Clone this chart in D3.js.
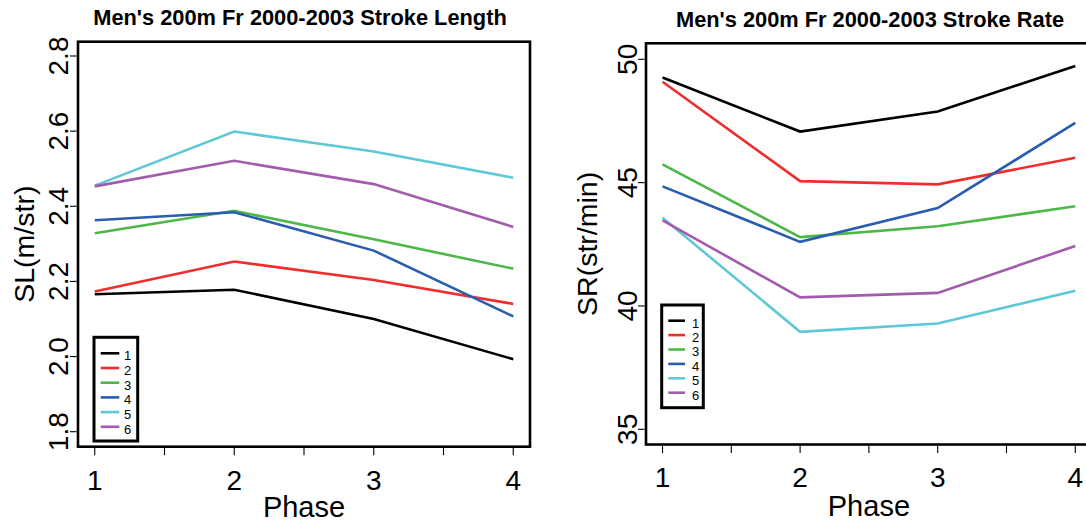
<!DOCTYPE html>
<html>
<head>
<meta charset="utf-8">
<script src="https://cdn.jsdelivr.net/npm/d3@7"></script>
<style>
  html, body { margin: 0; padding: 0; background: #fff; }
  svg { display: block; font-family: "Liberation Sans", Arial, Helvetica, sans-serif; }
</style>
</head>
<body>
<svg id="chart" width="1086" height="523"></svg>
<script>
// ---------------- data ----------------
const phases = [1, 2, 3, 4];
const seriesNames = ["1", "2", "3", "4", "5", "6"];
const seriesColors = ["#000000", "#f02d2d", "#4db848", "#2a5caf", "#5ec8d6", "#a35bad"];

// Stroke length (m/str)
const sl1 = [2.166, 2.178, 2.100, 1.993];
const sl2 = [2.173, 2.253, 2.204, 2.140];
const sl3 = [2.328, 2.388, 2.312, 2.234];
const sl4 = [2.363, 2.384, 2.282, 2.107];
const sl5 = [2.455, 2.599, 2.546, 2.476];
const sl6 = [2.453, 2.521, 2.459, 2.345];

// Stroke rate (str/min)
const sr1 = [49.26, 47.07, 47.88, 49.73];
const sr2 = [49.09, 45.06, 44.93, 46.01];
const sr3 = [45.74, 42.79, 43.23, 44.04];
const sr4 = [44.85, 42.60, 43.97, 47.42];
const sr5 = [43.58, 38.95, 39.29, 40.62];
const sr6 = [43.47, 40.35, 40.53, 42.43];

const slTicks = [1.8, 2.0, 2.2, 2.4, 2.6, 2.8];
const slTickLabels = ["1.8", "2.0", "2.2", "2.4", "2.6", "2.8"];
const srTicks = [35, 40, 45, 50];
const srTickLabels = ["35", "40", "45", "50"];
const xMajorTicks = [1, 2, 3, 4];
const xMinorTicks = [1.5, 2.5, 3.5];

// ---------------- layout ----------------
const svg = d3.select("#chart");

const panels = [
  {
    title: "Men's 200m Fr 2000-2003 Stroke Length",
    ylab: "SL(m/str)",
    series: [sl1, sl2, sl3, sl4, sl5, sl6],
    yDomain: [1.8, 2.8], yRange: [431.7, 56],
    yTicks: slTicks, yTickLabels: slTickLabels,
    box: { x0: 78, x1: 530, y0: 41.7, y1: 446.7 },
    titleX: 300, titleY: 25,
    yLabX: 67.5, yTitleX: 33.5,
    xLabY: 490, xTitleY: 517,
    legend: { x0: 94, y0: 337.3, x1: 137.7, y1: 441, first: 353.3, step: 14.7, lx0: 100.7, lx1: 119.3, tx: 124 }
  },
  {
    title: "Men's 200m Fr 2000-2003 Stroke Rate",
    ylab: "SR(str/min)",
    series: [sr1, sr2, sr3, sr4, sr5, sr6],
    yDomain: [35, 50], yRange: [429.3, 59.3],
    yTicks: srTicks, yTickLabels: srTickLabels,
    box: { x0: 646, x1: 1091.8, y0: 43.3, y1: 444.5 },
    titleX: 870, titleY: 27,
    yLabX: 636.5, yTitleX: 596.5,
    xLabY: 487, xTitleY: 516,
    legend: { x0: 661.7, y0: 305, x1: 703.3, y1: 407.7, first: 320.7, step: 14.4, lx0: 668.3, lx1: 685, tx: 692 }
  }
];

panels.forEach(p => {
  const g = svg.append("g");
  const b = p.box;
  const x = d3.scaleLinear().domain([0.88, 4.12]).range([b.x0, b.x1]);
  const y = d3.scaleLinear().domain(p.yDomain).range(p.yRange);

  // title
  g.append("text")
    .attr("x", p.titleX).attr("y", p.titleY)
    .attr("text-anchor", "middle")
    .attr("font-weight", "bold")
    .attr("font-size", 21.8)
    .text(p.title);

  // series lines
  const line = d3.line().x((d, i) => x(phases[i])).y(d => y(d));
  p.series.forEach((s, i) => {
    g.append("path")
      .datum(s)
      .attr("d", line)
      .attr("fill", "none")
      .attr("stroke", seriesColors[i])
      .attr("stroke-width", 2.6)
      .attr("stroke-linejoin", "miter");
  });

  // box
  g.append("rect")
    .attr("x", b.x0).attr("y", b.y0)
    .attr("width", b.x1 - b.x0).attr("height", b.y1 - b.y0)
    .attr("fill", "none").attr("stroke", "#000").attr("stroke-width", 2.6);

  // x ticks
  const xt = g.append("g");
  xMajorTicks.concat(xMinorTicks).forEach(t => {
    xt.append("line")
      .attr("x1", x(t)).attr("x2", x(t))
      .attr("y1", b.y1 + 1.3).attr("y2", b.y1 + 8.5)
      .attr("stroke", "#000").attr("stroke-width", 1.1);
  });
  xMajorTicks.forEach(t => {
    xt.append("text")
      .attr("x", x(t)).attr("y", p.xLabY)
      .attr("text-anchor", "middle")
      .attr("font-size", 28)
      .text(String(t));
  });

  // y ticks
  const yt = g.append("g");
  p.yTicks.forEach((t, i) => {
    yt.append("line")
      .attr("x1", b.x0 - 1.3).attr("x2", b.x0 - 8)
      .attr("y1", y(t)).attr("y2", y(t))
      .attr("stroke", "#000").attr("stroke-width", 1.1);
    yt.append("text")
      .attr("transform", `translate(${p.yLabX},${y(t)}) rotate(-90)`)
      .attr("text-anchor", "middle")
      .attr("font-size", 28)
      .text(p.yTickLabels[i]);
  });

  // axis titles
  g.append("text")
    .attr("x", (b.x0 + b.x1) / 2)
    .attr("y", p.xTitleY)
    .attr("text-anchor", "middle")
    .attr("font-size", 29)
    .text("Phase");
  g.append("text")
    .attr("transform", `translate(${p.yTitleX},${(b.y0 + b.y1) / 2}) rotate(-90)`)
    .attr("text-anchor", "middle")
    .attr("font-size", 28.5)
    .text(p.ylab);

  // legend
  const L = p.legend;
  const lg = g.append("g");
  lg.append("rect")
    .attr("x", L.x0).attr("y", L.y0)
    .attr("width", L.x1 - L.x0).attr("height", L.y1 - L.y0)
    .attr("fill", "#fff").attr("stroke", "#000").attr("stroke-width", 3);
  seriesNames.forEach((n, i) => {
    const yy = L.first + i * L.step;
    lg.append("line")
      .attr("x1", L.lx0).attr("x2", L.lx1)
      .attr("y1", yy).attr("y2", yy)
      .attr("stroke", seriesColors[i]).attr("stroke-width", 2.6);
    lg.append("text")
      .attr("x", L.tx).attr("y", yy + 6.8)
      .attr("font-size", 13)
      .text(n);
  });
});
</script>
</body>
</html>
